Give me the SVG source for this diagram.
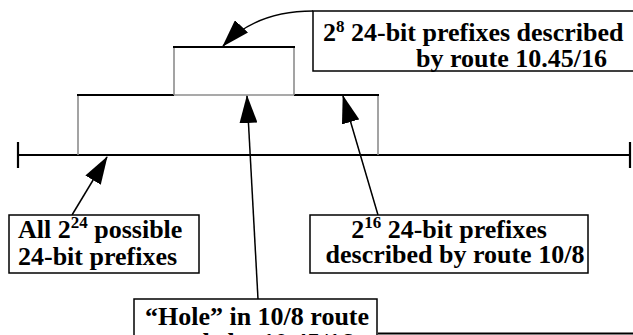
<svg xmlns="http://www.w3.org/2000/svg" width="633" height="335" viewBox="0 0 633 335">
<style>
.t{font-family:"Liberation Serif","Times New Roman",serif;font-weight:bold;font-size:26px;fill:#000}
.sup{font-size:17px}
.box{fill:#fff;stroke:#000;stroke-width:1.5}
.blk{stroke:#000;stroke-width:2.2;fill:none}
.gry{stroke:#8c8c8c;stroke-width:1.6;fill:none}
.con{stroke:#000;stroke-width:1.5;fill:none}
</style>
<defs>
<marker id="ah" markerUnits="userSpaceOnUse" viewBox="0 0 28 18" markerWidth="28" markerHeight="18" refX="27" refY="9" orient="auto">
<path d="M0,0 L28,9 L0,18 z" fill="#000"/>
</marker>
</defs>
<g id="axis">
<line class="blk" x1="18" y1="155" x2="630" y2="155"/>
<line class="blk" x1="18" y1="142" x2="18" y2="168"/>
<line class="blk" x1="630" y1="142" x2="630" y2="168"/>
</g>
<g id="range-10-8">
<line class="gry" x1="78" y1="95" x2="78" y2="155"/>
<line class="gry" x1="378" y1="95" x2="378" y2="155"/>
<line class="blk" x1="77" y1="95" x2="174" y2="95"/>
<line class="blk" x1="294" y1="95" x2="379" y2="95"/>
</g>
<g id="range-10-45-16">
<line class="gry" x1="174" y1="47" x2="174" y2="95"/>
<line class="gry" x1="294" y1="47" x2="294" y2="95"/>
<line class="gry" x1="174" y1="95" x2="294" y2="95"/>
<line class="blk" x1="173" y1="47" x2="295" y2="47"/>
</g>
<g id="connectors">
<path class="con" d="M313,11 Q256,11 223,46" marker-end="url(#ah)"/>
<line class="con" x1="258" y1="299" x2="247" y2="96" marker-end="url(#ah)"/>
<line class="con" x1="378" y1="215" x2="343" y2="96" marker-end="url(#ah)"/>
<line class="con" x1="72" y1="215" x2="107" y2="157" marker-end="url(#ah)"/>
</g>
<g id="label-top">
<rect class="box" x="313" y="11" width="330" height="60"/>
<text class="t" x="323" y="41">2<tspan class="sup" dy="-9">8</tspan><tspan dy="9"> 24-bit prefixes described</tspan></text>
<text class="t" x="416" y="67">by route 10.45/16</text>
</g>
<g id="label-all">
<rect class="box" x="9" y="215" width="190" height="58"/>
<text class="t" x="18" y="238">All 2<tspan class="sup" dy="-10">24</tspan><tspan dy="10"> possible</tspan></text>
<text class="t" x="18" y="265">24-bit prefixes</text>
</g>
<g id="label-10-8">
<rect class="box" x="310" y="215" width="278" height="58"/>
<text class="t" x="449" y="238" text-anchor="middle">2<tspan class="sup" dy="-10">16</tspan><tspan dy="10"> 24-bit prefixes</tspan></text>
<text class="t" x="455" y="263" text-anchor="middle">described by route 10/8</text>
</g>
<g id="label-hole">
<rect class="box" x="134" y="299" width="243" height="60"/>
<text class="t" x="257" y="325" text-anchor="middle">“Hole” in 10/8 route</text>
<text class="t" x="257" y="351" text-anchor="middle">made by 10.45/16</text>
<line class="blk" x1="378" y1="333.5" x2="633" y2="333.5"/>
</g>
</svg>
